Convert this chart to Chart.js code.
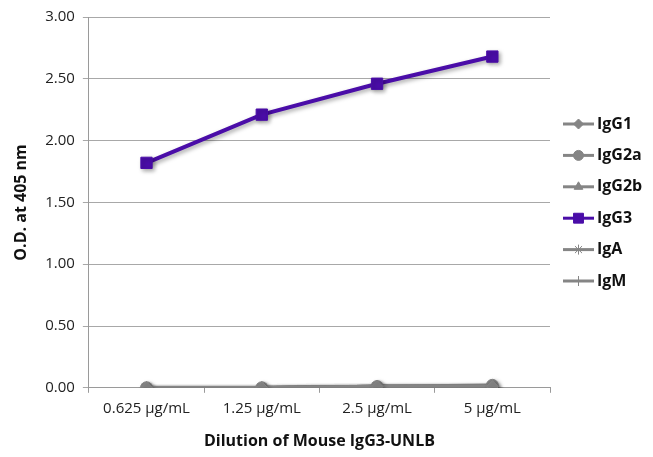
<!DOCTYPE html>
<html>
<head>
  <meta charset="utf-8">
  <title>Dilution of Mouse IgG3-UNLB</title>
  <script src="https://cdn.jsdelivr.net/npm/chart.js"></script>
  <style>
    html, body { margin: 0; padding: 0; background: #fff; }
    #wrap { width: 653px; height: 457px; position: relative; }
  </style>
</head>
<body>
  <div id="wrap"><canvas id="odChart"></canvas></div>

  <script>
    // Data
    const dilutions = ['0.625 µg/mL', '1.25 µg/mL', '2.5 µg/mL', '5 µg/mL'];
    const yTicks = [0, 0.5, 1, 1.5, 2, 2.5, 3];

    const igG1  = [0.00, 0.00, 0.01, 0.01];
    const igG2a = [0.00, 0.00, 0.01, 0.02];
    const igG2b = [0.00, 0.00, 0.01, 0.01];
    const igG3  = [1.82, 2.21, 2.46, 2.68];
    const igA   = [0.00, 0.00, 0.01, 0.01];
    const igM   = [0.00, 0.00, 0.01, 0.01];

    const GRAY = '#858585';
    const PURPLE = '#4a0da8';
    const FONT = "'Open Sans', 'Noto Sans', sans-serif";

    function series(label, data, color, style, radius, width) {
      return {
        label, data,
        borderColor: color, backgroundColor: color,
        pointStyle: style, pointRadius: radius, pointHoverRadius: radius,
        pointBorderColor: color, pointBackgroundColor: color,
        borderWidth: width, pointBorderWidth: 1, tension: 0
      };
    }

    // Soft shadow under lines
    const shadowPlugin = {
      id: 'shadow',
      beforeDatasetsDraw(chart) {
        const c = chart.ctx;
        c.save();
        c.shadowColor = 'rgba(0,0,0,0.35)';
        c.shadowBlur = 4;
        c.shadowOffsetX = 2;
        c.shadowOffsetY = 2;
      },
      afterDatasetsDraw(chart) { chart.ctx.restore(); }
    };

    // Legend on the right with line + marker samples
    const sideLegend = {
      id: 'sideLegend',
      afterDraw(chart) {
        const c = chart.ctx;
        const x0 = 563, x1 = 594, top = 124, gap = 31.4;
        c.save();
        chart.data.datasets.forEach((ds, i) => {
          const y = top + i * gap;
          c.strokeStyle = ds.borderColor;
          c.lineWidth = 3;
          c.beginPath(); c.moveTo(x0, y); c.lineTo(x1, y); c.stroke();
          c.fillStyle = ds.backgroundColor;
          c.lineWidth = 1;
          Chart.helpers.drawPoint(c, {
            pointStyle: ds.pointStyle, radius: ds.pointRadius - 1, borderWidth: 1
          }, (x0 + x1) / 2, y);
          c.fillStyle = '#111';
          c.font = 'bold 16px ' + FONT;
          c.textBaseline = 'middle';
          c.fillText(ds.label, x1 + 3, y);
        });
        c.restore();
      }
    };

    new Chart(document.getElementById('odChart'), {
      type: 'line',
      data: {
        labels: dilutions,
        datasets: [
          series('IgG1', igG1, GRAY, 'rectRot', 6, 3.5),
          series('IgG2a', igG2a, GRAY, 'circle', 6, 3.5),
          series('IgG2b', igG2b, GRAY, 'triangle', 6, 3.5),
          series('IgG3', igG3, PURPLE, 'rect', 8, 4),
          series('IgA', igA, GRAY, 'star', 6, 3.5),
          series('IgM', igM, GRAY, 'cross', 6, 3.5)
        ]
      },
      options: {
        responsive: true,
        maintainAspectRatio: false,
        animation: false,
        layout: { padding: { left: 8, right: 103, top: 6, bottom: 2 } },
        plugins: { legend: { display: false }, tooltip: { enabled: false } },
        scales: {
          x: {
            offset: true,
            grid: { drawOnChartArea: false, drawTicks: true, tickLength: 5, color: '#9a9a9a', offset: true },
            border: { color: '#9a9a9a', width: 1 },
            ticks: { color: '#222', font: { family: FONT, size: 15 }, padding: 7 },
            title: {
              display: true, text: 'Dilution of Mouse IgG3-UNLB', color: '#111',
              font: { family: FONT, size: 16, weight: 'bold' }, padding: { top: 7 }
            }
          },
          y: {
            min: 0, max: 3,
            afterBuildTicks(axis) { axis.ticks = yTicks.map(v => ({ value: v })); },
            grid: { color: '#a8a8a8', tickLength: 6, lineWidth: 1 },
            border: { color: '#9a9a9a', width: 1 },
            ticks: {
              color: '#222', font: { family: FONT, size: 15 }, padding: 8,
              callback: v => Number(v).toFixed(2)
            },
            title: {
              display: true, text: 'O.D. at 405 nm', color: '#111',
              font: { family: FONT, size: 16, weight: 'bold' }, padding: { bottom: 6 }
            }
          }
        }
      },
      plugins: [shadowPlugin, sideLegend]
    });
  </script>
</body>
</html>
